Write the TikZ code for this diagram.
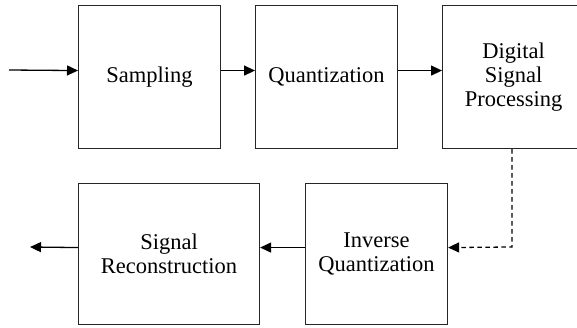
\documentclass[tikz,border=0pt]{standalone}
\usepackage{fontspec}
\setmainfont{Liberation Serif}
\usetikzlibrary{arrows.meta}
\begin{document}
\begin{tikzpicture}[x=1pt,y=-1pt,
  blk/.style={draw=black!85,line width=1.1pt,minimum width=142pt,minimum height=143pt,
    align=center,font=\fontsize{22.5}{24}\selectfont,inner sep=0pt,anchor=north west},
  flow/.style={line width=1.3pt,-{Triangle[length=11pt,width=10pt]}},
  dflow/.style={flow,dash pattern=on 4.5pt off 3.5pt},
  up/.style={yshift=6.5pt}]
\useasboundingbox (0,0) rectangle (577,327);
\node[blk] (samp) at (78,5) {Sampling};
\node[blk] (quant) at (255,5) {Quantization};
\node[blk] (dsp) at (442,5) {Digital\\Signal\\Processing};
\node[blk,minimum width=142pt,minimum height=141pt] (iq) at (305,183) {Inverse\\Quantization};
\node[blk,minimum width=181pt,minimum height=141pt] (sr) at (78,183) {Signal\\Reconstruction};
\coordinate (in) at (9,70);
\coordinate (out) at (30,247);
\coordinate (turn) at (512,247);
\draw[flow] (in) -- ([up]samp.west);
\draw[flow] ([up]samp.east) -- ([up]quant.west);
\draw[flow] ([up]quant.east) -- ([up]dsp.west);
\draw[dflow] (dsp.south -| turn) -- (turn) -- ([up]iq.east);
\draw[flow] ([up]iq.west) -- ([up]sr.east);
\draw[flow] ([up]sr.west) -- (out);
\end{tikzpicture}
\end{document}
